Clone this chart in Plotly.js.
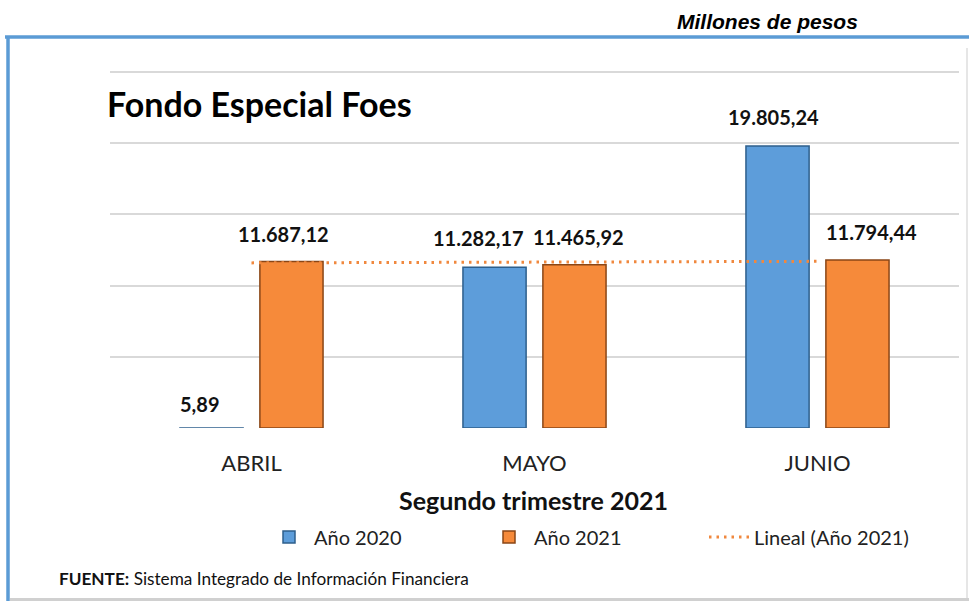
<!DOCTYPE html>
<html>
<head>
<meta charset="utf-8">
<script src="https://cdn.plot.ly/plotly-3.0.1.min.js"></script>
<style>
html,body{margin:0;padding:0;background:#fff;}
#chart{width:969px;height:601px;}
</style>
</head>
<body>
<div id="chart"></div>
<script>
// ---- data ----
var categories = ['ABRIL', 'MAYO', 'JUNIO'];
var values2020 = [5.89, 11282.17, 19805.24];
var values2021 = [11687.12, 11465.92, 11794.44];
var seriesNames = ['Año 2020', 'Año 2021', 'Lineal (Año 2021)'];
var yTicks = [0, 5000, 10000, 15000, 20000, 25000];

// ---- label nudges (style, px) ----
var shift2020 = [-52, -56, -44];
var shift2021 = [32, 44, 54];

// ---- helpers ----
function fmtES(v) {
  var parts = v.toFixed(2).split('.');
  var intPart = parts[0].replace(/\B(?=(\d{3})+(?!\d))/g, '.');
  return intPart + ',' + parts[1];
}
// linear trendline (least squares) of the 2021 series
function linearFit(ys) {
  var n = ys.length, sx = 0, sy = 0, sxy = 0, sxx = 0;
  for (var i = 0; i < n; i++) { var x = i + 1; sx += x; sy += ys[i]; sxy += x * ys[i]; sxx += x * x; }
  var b = (n * sxy - sx * sy) / (n * sxx - sx * sx);
  var a = (sy - b * sx) / n;
  return ys.map(function (_, i) { return a + b * (i + 1); });
}
var trend2021 = linearFit(values2021);

var FONT = 'Lato, "Open Sans", sans-serif';
var blue = '#5D9DDA', orange = '#F68A3A';

var traces = [
  {
    type: 'bar', name: seriesNames[0], x: categories, y: values2020,
    marker: { color: blue, line: { color: '#2E5F8C', width: 1.5 } },
    hoverinfo: 'skip'
  },
  {
    type: 'bar', name: seriesNames[1], x: categories, y: values2021,
    marker: { color: orange, line: { color: '#8A4616', width: 1.5 } },
    hoverinfo: 'skip'
  },
  {
    type: 'scatter', mode: 'lines', name: seriesNames[2], x: categories, y: trend2021,
    line: { color: '#F0883E', width: 3, dash: '2.5px,5px' },
    hoverinfo: 'skip'
  }
];

// value labels
var annotations = [];
categories.forEach(function (c, i) {
  annotations.push({
    x: c, y: values2020[i], xref: 'x', yref: 'y', text: fmtES(values2020[i]),
    showarrow: false, xshift: shift2020[i], yshift: (i === 0 ? 10 : 15), yanchor: 'bottom',
    font: { family: FONT, size: 20, color: '#111', weight: 'bold' }
  });
  annotations.push({
    x: c, y: values2021[i], xref: 'x', yref: 'y', text: fmtES(values2021[i]),
    showarrow: false, xshift: shift2021[i], yshift: 14, yanchor: 'bottom',
    font: { family: FONT, size: 20, color: '#111', weight: 'bold' }
  });
});

// plot area geometry: value 25000 lands at y=72, 0 at y=428
var L = 110, T = 70, W = 849, H = 358;
var yMax = 25000 * H / 356;
function px(x) { return (x - L) / W; }
function py(y) { return 1 - (y - T) / H; }

annotations.push({
  xref: 'paper', yref: 'paper', x: px(105), y: py(103), xanchor: 'left', yanchor: 'middle',
  text: '<b>Fondo Especial Foes</b>', showarrow: false,
  font: { family: FONT, size: 34, color: '#000' }
});
annotations.push({
  xref: 'paper', yref: 'paper', x: px(767), y: py(22), xanchor: 'center', yanchor: 'middle',
  text: '<b><i>Millones de pesos</i></b>', showarrow: false,
  font: { family: '"Liberation Sans", Arial, sans-serif', size: 21, color: '#000' }
});
annotations.push({
  xref: 'paper', yref: 'paper', x: px(533), y: py(500), xanchor: 'center', yanchor: 'middle',
  text: '<b>Segundo trimestre 2021</b>', showarrow: false,
  font: { family: FONT, size: 25, color: '#111' }
});
annotations.push({
  xref: 'paper', yref: 'paper', x: px(57), y: py(578), xanchor: 'left', yanchor: 'middle',
  text: '<b>FUENTE:</b> Sistema Integrado de Información Financiera', showarrow: false,
  font: { family: FONT, size: 17.2, color: '#111' }
});

var shapes = [
  { type: 'line', xref: 'paper', yref: 'paper', x0: px(5), x1: px(969), y0: py(37), y1: py(37),
    line: { color: '#5B9BD5', width: 3.5 } },
  { type: 'line', xref: 'paper', yref: 'paper', x0: px(8), x1: px(8), y0: py(37), y1: py(601),
    line: { color: '#5B9BD5', width: 3.5 } },
  { type: 'line', xref: 'paper', yref: 'paper', x0: px(967), x1: px(967), y0: py(48), y1: py(601),
    line: { color: '#E6E6E6', width: 2 } },
  { type: 'line', xref: 'paper', yref: 'paper', x0: px(10), x1: px(969), y0: py(599.5), y1: py(599.5),
    line: { color: '#D0D0D0', width: 3 } }
];

var layout = {
  width: 969, height: 601,
  margin: { l: L, r: 969 - L - W, t: T, b: 601 - T - H, pad: 0 },
  paper_bgcolor: '#fff', plot_bgcolor: '#fff',
  showlegend: true,
  barmode: 'group', bargap: 0.435, bargroupgap: 0.21,
  xaxis: {
    type: 'category', showgrid: false, zeroline: false, showline: false,
    ticks: '', ticklabelstandoff: 20,
    tickfont: { family: FONT, size: 22, color: '#222' }
  },
  yaxis: {
    range: [0, yMax], tickvals: yTicks, showticklabels: false,
    showgrid: true, gridcolor: '#D9D9D9', gridwidth: 2, zeroline: false, showline: false
  },
  legend: {
    orientation: 'h', x: px(264), y: py(537), xanchor: 'left', yanchor: 'middle',
    font: { family: FONT, size: 20, color: '#222' },
    entrywidth: 165, entrywidthmode: 'pixels', itemwidth: 40,
    traceorder: 'normal', bgcolor: 'rgba(0,0,0,0)'
  },
  annotations: annotations,
  shapes: shapes
};

Plotly.newPlot('chart', traces, layout, { displayModeBar: false, staticPlot: true });
</script>
</body>
</html>
